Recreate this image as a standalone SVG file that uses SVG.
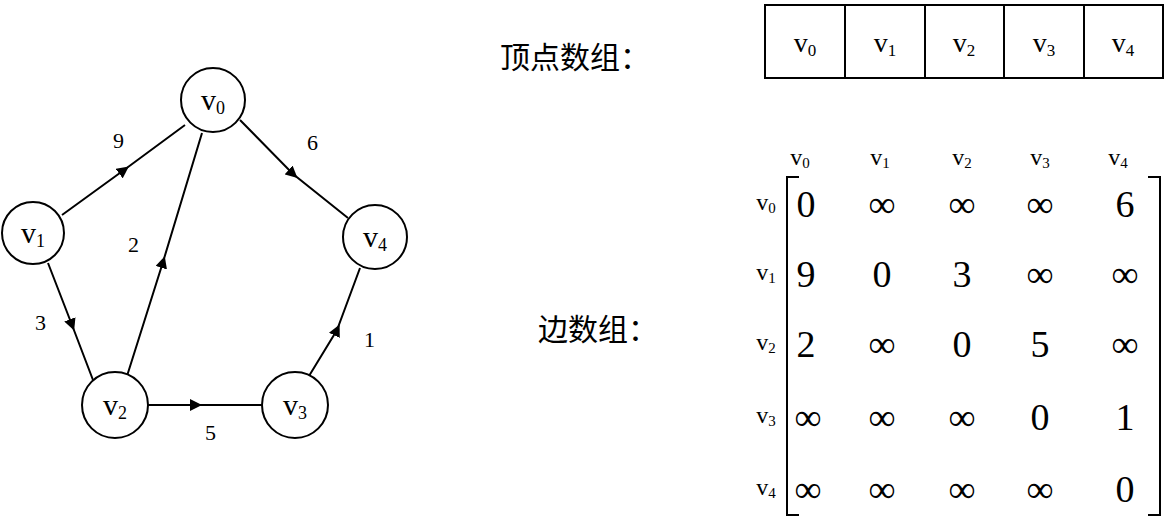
<svg xmlns="http://www.w3.org/2000/svg" width="1173" height="532" viewBox="0 0 1173 532">
<style>
.n{fill:#fff;stroke:#000;stroke-width:2}
.t{font-family:"Liberation Serif",serif;fill:#000}
.c{font-family:"Noto Sans CJK SC",sans-serif;font-size:30px;fill:#000}
.e{stroke:#000;stroke-width:2;fill:none}
.m{font-family:"Liberation Serif",serif;font-size:38px;text-anchor:middle;fill:#000}
</style>
<defs><marker id="a" viewBox="0 0 10 10" refX="5" refY="5" markerWidth="6" markerHeight="6" orient="auto"><path d="M0,0L10,5L0,10z" fill="#000"/></marker></defs>
<rect width="1173" height="532" fill="#fff"/>
<g id="connectors">
<polyline class="e" points="62,215 124,170 185,125" marker-mid="url(#a)"/>
<polyline class="e" points="240,120 293,174 348,218" marker-mid="url(#a)"/>
<polyline class="e" points="127,376 163,262 202,133" marker-mid="url(#a)"/>
<polyline class="e" points="48,263 72,325 93,380" marker-mid="url(#a)"/>
<polyline class="e" points="148,405 196,405 262,405" marker-mid="url(#a)"/>
<polyline class="e" points="309,376 337,330 360,268" marker-mid="url(#a)"/>
<text class="t" x="113" y="148" font-size="22">9</text>
<text class="t" x="307" y="150" font-size="22">6</text>
<text class="t" x="128" y="252" font-size="22">2</text>
<text class="t" x="35" y="330" font-size="22">3</text>
<text class="t" x="205" y="440" font-size="22">5</text>
<text class="t" x="364" y="347" font-size="22">1</text>
</g>
<g id="v0"><circle class="n" cx="213" cy="100" r="32"/><text class="t" x="213" y="110" font-size="30" text-anchor="middle">v<tspan font-size="18" dy="4">0</tspan></text></g>
<g id="v1"><circle class="n" cx="33" cy="233" r="31"/><text class="t" x="33" y="243" font-size="30" text-anchor="middle">v<tspan font-size="18" dy="4">1</tspan></text></g>
<g id="v4"><circle class="n" cx="375" cy="237" r="32"/><text class="t" x="375" y="247" font-size="30" text-anchor="middle">v<tspan font-size="18" dy="4">4</tspan></text></g>
<g id="v2"><circle class="n" cx="115" cy="405" r="33"/><text class="t" x="115" y="415" font-size="30" text-anchor="middle">v<tspan font-size="18" dy="4">2</tspan></text></g>
<g id="v3"><circle class="n" cx="295" cy="405" r="33"/><text class="t" x="295" y="415" font-size="30" text-anchor="middle">v<tspan font-size="18" dy="4">3</tspan></text></g>
<g id="vertexArray">
<text class="c" x="500" y="68">顶点数组：</text>
<rect x="765" y="5" width="398" height="73" fill="none" stroke="#000" stroke-width="2"/>
<path class="e" d="M845,5V78M925,5V78M1004,5V78M1084,5V78"/>
<g class="t" font-size="28" text-anchor="middle">
<text x="805" y="52">v<tspan font-size="17" dy="4">0</tspan></text>
<text x="885" y="52">v<tspan font-size="17" dy="4">1</tspan></text>
<text x="964" y="52">v<tspan font-size="17" dy="4">2</tspan></text>
<text x="1044" y="52">v<tspan font-size="17" dy="4">3</tspan></text>
<text x="1123" y="52">v<tspan font-size="17" dy="4">4</tspan></text>
</g></g>
<g id="edgeArray">
<text class="c" x="538" y="340">边数组：</text>
<g class="t" font-size="24" text-anchor="middle">
<text x="800" y="165">v<tspan font-size="15" dy="3">0</tspan></text>
<text x="880" y="165">v<tspan font-size="15" dy="3">1</tspan></text>
<text x="962" y="165">v<tspan font-size="15" dy="3">2</tspan></text>
<text x="1040" y="165">v<tspan font-size="15" dy="3">3</tspan></text>
<text x="1118" y="165">v<tspan font-size="15" dy="3">4</tspan></text>
<text x="766" y="210">v<tspan font-size="15" dy="3">0</tspan></text>
<text x="766" y="280">v<tspan font-size="15" dy="3">1</tspan></text>
<text x="766" y="350">v<tspan font-size="15" dy="3">2</tspan></text>
<text x="766" y="423">v<tspan font-size="15" dy="3">3</tspan></text>
<text x="766" y="495">v<tspan font-size="15" dy="3">4</tspan></text>
</g>
<path class="e" d="M799,177H787V515H799M1148,177H1160V515H1148"/>
<g class="m">
<text x="806" y="217">0</text><text x="882" y="217">∞</text><text x="962" y="217">∞</text><text x="1040" y="217">∞</text><text x="1125" y="217">6</text>
<text x="806" y="287">9</text><text x="882" y="287">0</text><text x="962" y="287">3</text><text x="1040" y="287">∞</text><text x="1125" y="287">∞</text>
<text x="806" y="357">2</text><text x="882" y="357">∞</text><text x="962" y="357">0</text><text x="1040" y="357">5</text><text x="1125" y="357">∞</text>
<text x="808" y="430">∞</text><text x="882" y="430">∞</text><text x="962" y="430">∞</text><text x="1040" y="430">0</text><text x="1125" y="430">1</text>
<text x="808" y="502">∞</text><text x="882" y="502">∞</text><text x="962" y="502">∞</text><text x="1040" y="502">∞</text><text x="1125" y="502">0</text>
</g></g>
</svg>
